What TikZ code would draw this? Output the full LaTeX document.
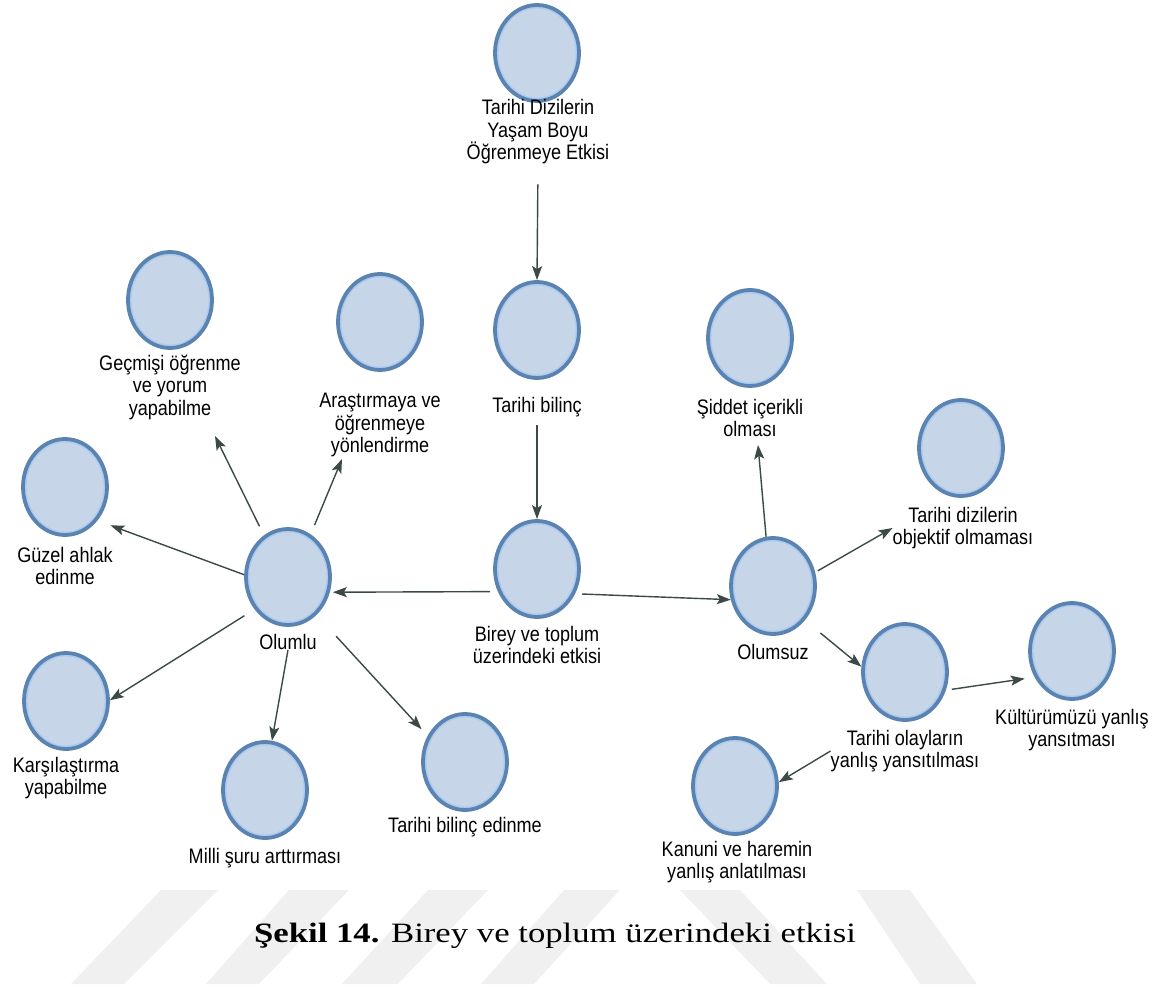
\documentclass[tikz,border=0pt]{standalone}
\usepackage{fontspec}
\newfontfamily\etiketfont{Liberation Sans}[FakeStretch=0.86]
\newfontfamily\altyazifont{Liberation Serif}[FakeStretch=1.24]
\usetikzlibrary{shapes.geometric,arrows.meta}
\definecolor{kenar}{HTML}{5A83B2}
\definecolor{dolgu}{HTML}{C6D5E8}
\definecolor{acikkenar}{HTML}{ABCBEF}
\definecolor{okrengi}{HTML}{3B4A47}
\definecolor{filigran}{HTML}{F0F0F0}
\tikzset{
  kavram/.style={ellipse, draw=kenar, fill=dolgu, line width=3.8pt,
    minimum width=84pt, minimum height=96pt, inner sep=0pt,
    path picture={\draw[acikkenar, line width=1.5pt]
      (path picture bounding box.center) ellipse (39.3pt and 45.3pt);}},
  etiket/.style={align=center, inner sep=0pt,
    font=\etiketfont\fontsize{21}{22.5}\selectfont},
  ok/.style={draw=okrengi, line width=1.4pt,
    -{Stealth[length=14pt,width=10pt,inset=3pt]}}
}
\begin{document}
\begin{tikzpicture}[x=1pt,y=-1pt]
      \useasboundingbox (0,0) rectangle (1168,990);
      \fill[filigran] (161,890) -- (218,890) -- (124,984) -- (71,984) -- cycle;
      \fill[filigran] (289,890) -- (349,890) -- (259,984) -- (206,984) -- cycle;
      \fill[filigran] (428,890) -- (488,890) -- (398,984) -- (342,984) -- cycle;
      \fill[filigran] (564,890) -- (620,890) -- (534,984) -- (481,984) -- cycle;
      \fill[filigran] (680,890) -- (740,890) -- (827,984) -- (770,984) -- cycle;
      \fill[filigran] (857,890) -- (910,890) -- (977,984) -- (920,984) -- cycle;
      \node[kavram] (dizi) at (537,53) {};
      \node[etiket] (dizil) at (538,132) {Tarihi Dizilerin\\Yaşam Boyu\\Öğrenmeye Etkisi};
      \node[kavram] (bilinc) at (537,330) {};
      \node[etiket] (bilincl) at (537,407) {Tarihi bilinç};
      \node[kavram] (birey) at (537,569) {};
      \node[etiket] (bireyl) at (537,645) {Birey ve toplum\\üzerindeki etkisi};
      \node[kavram] (olumlu) at (288,577) {};
      \node[etiket] (olumlul) at (288,642) {Olumlu};
      \node[kavram] (gecmis) at (170,300) {};
      \node[etiket] (gecmisl) at (170,387) {Geçmişi öğrenme\\ve yorum\\yapabilme};
      \node[kavram] (arastirma) at (380,322) {};
      \node[etiket] (arastirmal) at (380,425) {Araştırmaya ve\\öğrenmeye\\yönlendirme};
      \node[kavram] (ahlak) at (65,487) {};
      \node[etiket] (ahlakl) at (65,566) {Güzel ahlak\\edinme};
      \node[kavram] (karsilastirma) at (66,701) {};
      \node[etiket] (karsilastirmal) at (66,778) {Karşılaştırma\\yapabilme};
      \node[kavram] (milli) at (265,790) {};
      \node[etiket] (millil) at (265,858) {Milli şuru arttırması};
      \node[kavram] (edinme) at (465,762) {};
      \node[etiket] (edinmel) at (465,827) {Tarihi bilinç edinme};
      \node[kavram] (olumsuz) at (773,586) {};
      \node[etiket] (olumsuzl) at (773,652) {Olumsuz};
      \node[kavram] (siddet) at (750,338) {};
      \node[etiket] (siddetl) at (750,418) {Şiddet içerikli\\olması};
      \node[kavram] (objektif) at (961,448) {};
      \node[etiket] (objektifl) at (963,528) {Tarihi dizilerin\\objektif olmaması};
      \node[kavram] (olaylar) at (905,672) {};
      \node[etiket] (olaylarl) at (905,751) {Tarihi olayların\\yanlış yansıtılması};
      \node[kavram] (kultur) at (1072,651) {};
      \node[etiket] (kulturl) at (1072,730) {Kültürümüzü yanlış\\yansıtması};
      \node[kavram] (kanuni) at (735,786) {};
      \node[etiket] (kanunil) at (737,862) {Kanuni ve haremin\\yanlış anlatılması};
      \node[font=\altyazifont\fontsize{28}{32}\selectfont] (sekil) at (555,936)
        {\textbf{Şekil 14.} Birey ve toplum üzerindeki etkisi};
      \begin{scope}[ok]
        \draw[shorten <=20pt] (dizil.south) -- (bilinc.north);
        \draw[shorten <=8pt] (bilincl.south) -- (birey.north);
        \draw[shorten <=8pt, shorten >=3pt] (birey.210) -- (olumlu.-20);
        \draw[shorten <=7pt] (birey.-33) -- (olumsuz.198);
        \draw[shorten >=14pt] (olumlu.177) -- (ahlak.-46);
        \draw[shorten <=12pt] (olumlu.224) -- (karsilastirma.1);
        \draw[shorten <=10pt] (olumlu.120) -- ([shift={(45,49)}]gecmisl.center);
        \draw[shorten <=10pt] (olumlu.62) -- ([shift={(-38,34)}]arastirmal.center);
        \draw (olumlul.south) -- (milli.82);
        \draw[shorten <=29pt, shorten >=9pt] (olumlu.-53) -- (edinme.145);
        \draw (olumsuz.98) -- ([shift={(8,27)}]siddetl.center);
        \draw[shorten <=3pt] (olumsuz.18) -- (objektifl.west);
        \draw[shorten <=20pt] (olumsuz.-47) -- (olaylar.173);
        \draw[shorten <=6pt, shorten >=10pt] (olaylar.-24) -- (kultur.215);
        \draw (olaylarl.west) -- (kanuni.5);
      \end{scope}
    \end{tikzpicture}
\end{document}
